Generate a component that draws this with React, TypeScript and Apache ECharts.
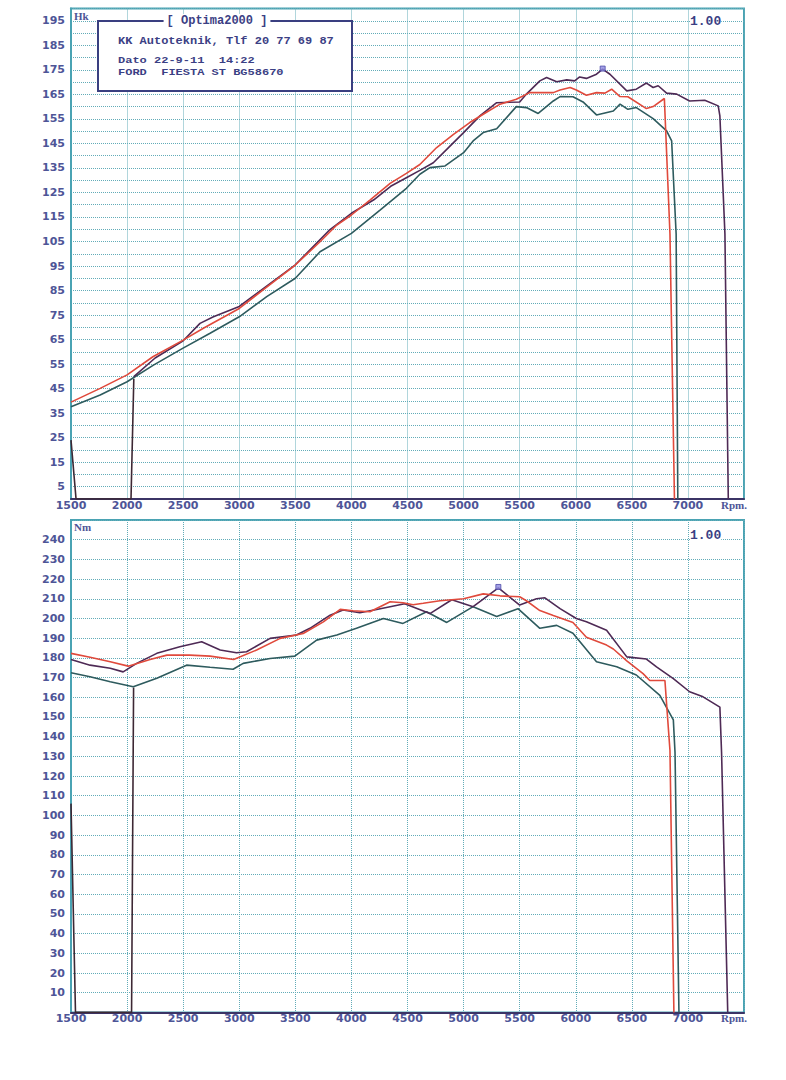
import React, { useEffect, useRef } from "react";
import * as echarts from "echarts";

// ---------- Data (rpm, value) ----------
const powerRed: number[][] = [
  [1500, 39.5], [1760, 45.1], [2000, 50.6], [2230, 58.0], [2500, 64.8], [2680, 69.6], [3000, 77.7],
  [3210, 85.2], [3500, 95.4], [3720, 104.9], [3870, 111.7], [4000, 115.8], [4165, 121.9], [4345, 128.7],
  [4490, 132.8], [4610, 136.4], [4760, 143.3], [4910, 148.7], [5055, 153.5], [5175, 156.9], [5325, 161.0],
  [5470, 163.0], [5590, 165.7], [5800, 165.7], [5860, 166.8], [5950, 167.8], [6005, 166.8], [6095, 164.6],
  [6185, 165.7], [6260, 165.5], [6320, 167.1], [6395, 164.1], [6465, 164.0], [6630, 159.2], [6690, 160.0],
  [6790, 163.3], [6840, 108], [6880, 0],
];
const powerPurple: number[][] = [
  [2060, 49.9], [2250, 57.5], [2500, 64.5], [2650, 71.6], [2770, 74.3], [3000, 78.5], [3250, 87.0],
  [3500, 95.5], [3800, 109.5], [4000, 116.5], [4200, 122.0], [4350, 127.5], [4490, 131.0], [4610, 134.0],
  [4730, 137.1], [4870, 143.5], [5000, 149.4], [5145, 156.2], [5295, 161.6], [5500, 161.9], [5560, 165.1],
  [5680, 170.5], [5740, 171.9], [5830, 170.1], [5920, 170.9], [5990, 170.5], [6035, 172.1], [6095, 171.5],
  [6185, 173.2], [6240, 175.3], [6305, 173.2], [6455, 166.4], [6540, 167.1], [6630, 169.6], [6690, 167.8],
  [6735, 168.5], [6810, 165.5], [6900, 165.1], [7015, 162.3], [7150, 162.6], [7270, 160.3], [7285, 156.2],
  [7330, 108], [7360, 0],
];
const powerTeal: number[][] = [
  [1500, 37.6], [1760, 42.4], [2000, 47.8], [2235, 54.6], [2495, 61.4], [2740, 67.6], [3000, 74.3],
  [3245, 82.5], [3500, 90.0], [3720, 100.8], [4000, 108.3], [4255, 117.8], [4490, 126.7], [4610, 132.4],
  [4700, 135.1], [4835, 135.8], [5000, 141.2], [5085, 146.0], [5175, 149.4], [5295, 151.0], [5470, 160.0],
  [5560, 159.6], [5665, 157.2], [5800, 162.3], [5860, 164.1], [5975, 164.0], [6065, 161.9], [6185, 156.6],
  [6335, 158.2], [6395, 161.0], [6465, 158.9], [6540, 159.6], [6690, 155.1], [6810, 150.1], [6855, 146.0],
  [6895, 108], [6910, 0],
];
const powerDrop: number[][] = [[1500, 24], [1545, 0], [2035, 0], [2060, 49]];
const powerPeak: number[][] = [[6240, 175.5]];

const torqueRed: number[][] = [
  [1500, 182.3], [1670, 180.3], [1850, 178.0], [2010, 175.8], [2205, 179.2], [2355, 181.4], [2560, 181.4],
  [2740, 180.9], [2950, 179.2], [3155, 184.0], [3365, 189.9], [3570, 192.4], [3750, 198.3], [3900, 204.6],
  [4015, 203.9], [4165, 203.4], [4345, 208.5], [4460, 208.0], [4550, 207.0], [4640, 207.7], [4790, 209.0],
  [5000, 210.0], [5175, 212.5], [5325, 211.5], [5500, 211.0], [5560, 209.0], [5680, 204.0], [5800, 201.5],
  [5975, 198.0], [6095, 190.5], [6275, 186.5], [6335, 184.5], [6455, 178.5], [6600, 172.0], [6660, 168.5],
  [6795, 168.5], [6810, 156.5], [6840, 133], [6875, 0],
];
const torquePurple: number[][] = [
  [1500, 179.2], [1670, 176.3], [1850, 174.7], [1965, 172.9], [2085, 177.2], [2265, 182.3], [2470, 185.6],
  [2665, 188.2], [2830, 184.0], [2975, 182.6], [3065, 183.1], [3275, 189.9], [3510, 191.6], [3630, 195.0],
  [3810, 201.7], [3925, 204.3], [4075, 202.9], [4225, 204.6], [4475, 207.5], [4700, 202.5], [4895, 209.5],
  [5085, 206.0], [5310, 215.5], [5500, 206.8], [5650, 210.0], [5725, 210.5], [5860, 205.0], [6005, 200.0],
  [6095, 198.3], [6275, 194.0], [6455, 180.5], [6630, 179.4], [6720, 175.4], [6870, 169.5], [7015, 162.8],
  [7135, 160.2], [7285, 155.0], [7300, 132], [7355, 0],
];
const torqueTeal: number[][] = [
  [1500, 172.4], [1670, 170.4], [1850, 167.9], [2055, 165.3], [2265, 169.6], [2530, 176.3], [2740, 175.2],
  [2945, 174.2], [3035, 177.2], [3275, 179.7], [3495, 180.9], [3690, 189.0], [3870, 191.6], [4045, 195.0],
  [4285, 200.0], [4460, 197.5], [4670, 203.4], [4850, 198.0], [5085, 206.0], [5295, 201.0], [5485, 205.0],
  [5680, 195.0], [5830, 196.5], [5975, 192.5], [6185, 178.0], [6365, 175.5], [6540, 171.3], [6750, 161.0],
  [6870, 148.5], [6885, 132], [6920, 0],
];
const torqueDrop: number[][] = [[1500, 106], [1540, 0], [2040, 0], [2058, 165]];
const torquePeak: number[][] = [[5310, 216]];

const headerTitle = "[ Optima2000 ]";
const headerLines = ["KK Autoteknik, Tlf 20 77 69 87", "Dato 22-9-11  14:22", "FORD  FIESTA ST BG58670"];
const xUnit = "Rpm.";
const scaleText = "1.00";

// ---------- Styles ----------
const RED = "#e04a3c";
const PURPLE = "#4e2a55";
const TEAL = "#2e5b5e";
const DROP = "#3d2834";
const FRAME = "#4aa3b3";
const GRIDC = "#62acb8";
const LABEL = "#4e5597";
const INK = "#3b4084";

export default function App() {
  const ref = useRef<HTMLDivElement>(null);

  useEffect(() => {
    if (!ref.current) return;
    const chart = echarts.init(ref.current, undefined, { renderer: "svg" });

    const xAxisBase = (gridIndex: number) => ({
      type: "value",
      gridIndex,
      min: 1500,
      max: 7500,
      interval: 500,
      axisLine: { show: true, onZero: false, lineStyle: { color: "#3b3466", width: 2 } },
      axisTick: { show: false },
      splitLine: { show: true, lineStyle: { color: GRIDC, type: "dotted", width: 1 } },
      axisLabel: {
        color: LABEL,
        fontFamily: "DejaVu Sans",
        fontWeight: "bold",
        fontSize: 11,
        margin: 1,
        showMinLabel: true,
        showMaxLabel: true,
        formatter: (v: number) => (v === 7500 ? "" : String(v)),
      },
    });

    const lineS = (data: number[][], color: string, xi: number, z: number, width = 1.6) => ({
      type: "line",
      xAxisIndex: xi,
      yAxisIndex: xi,
      data,
      symbol: "none",
      z,
      lineStyle: { color, width },
    });

    const peakS = (data: number[][], xi: number) => ({
      type: "scatter",
      xAxisIndex: xi,
      yAxisIndex: xi,
      data,
      symbol: "rect",
      symbolSize: 5,
      z: 10,
      itemStyle: { color: "#8d8ae0", borderColor: "#4b48a8", borderWidth: 1 },
    });

    const monoText = (x: number, y: number, text: string, size = 12, extra: any = {}, scaleY = 1) => ({
      type: "text",
      x,
      y,
      scaleY,
      z: 101,
      style: {
        text,
        fill: INK,
        font: `bold ${size}px "Liberation Mono", "DejaVu Sans Mono", monospace`,
        textVerticalAlign: "middle",
        ...extra,
      },
    });

    const serifText = (x: number, y: number, text: string, align = "left") => ({
      type: "text",
      x,
      y,
      z: 101,
      style: {
        text,
        fill: LABEL,
        font: 'bold 11px "Liberation Serif", serif',
        textAlign: align,
        textVerticalAlign: "middle",
      },
    });

    const option: any = {
      animation: false,
      backgroundColor: "#ffffff",
      grid: [
        { left: 71, top: 8.5, width: 673, height: 490.5, show: true, borderColor: FRAME, borderWidth: 2, backgroundColor: "transparent" },
        { left: 71, top: 520, width: 673, height: 492.4, show: true, borderColor: FRAME, borderWidth: 2, backgroundColor: "transparent" },
      ],
      xAxis: [xAxisBase(0), xAxisBase(1)],
      yAxis: [
        {
          type: "value",
          gridIndex: 0,
          min: 0,
          max: 200,
          interval: 5,
          axisLine: { show: true, lineStyle: { color: FRAME, width: 2 } },
          axisTick: { show: false },
          splitLine: { show: true, lineStyle: { color: GRIDC, type: "dotted", width: 1 } },
          axisLabel: {
            color: LABEL,
            fontFamily: "DejaVu Sans",
            fontWeight: "bold",
            fontSize: 11,
            margin: 6,
            formatter: (v: number) => (v % 10 === 5 ? String(v) : ""),
          },
        },
        {
          type: "value",
          gridIndex: 1,
          min: 0,
          max: 250,
          interval: 10,
          axisLine: { show: true, lineStyle: { color: FRAME, width: 2 } },
          axisTick: { show: false },
          splitLine: { show: true, lineStyle: { color: GRIDC, type: "dotted", width: 1 } },
          axisLabel: {
            color: LABEL,
            fontFamily: "DejaVu Sans",
            fontWeight: "bold",
            fontSize: 11,
            margin: 6,
            formatter: (v: number) => (v > 0 && v < 250 ? String(v) : ""),
          },
        },
      ],
      series: [
        lineS(powerDrop, DROP, 0, 3),
        lineS(powerTeal, TEAL, 0, 4),
        lineS(powerPurple, PURPLE, 0, 5),
        lineS(powerRed, RED, 0, 6),
        peakS(powerPeak, 0),
        lineS(torqueDrop, DROP, 1, 3),
        lineS(torqueTeal, TEAL, 1, 4),
        lineS(torquePurple, PURPLE, 1, 5),
        lineS(torqueRed, RED, 1, 6),
        peakS(torquePeak, 1),
      ],
      graphic: [
        {
          type: "rect",
          z: 100,
          shape: { x: 98, y: 21, width: 254, height: 70 },
          style: { fill: "#ffffff", stroke: "#3a3f80", lineWidth: 2 },
        },
        monoText(217, 21, headerTitle, 12, { textAlign: "center", backgroundColor: "#ffffff", padding: [1, 3] }),
        monoText(118, 41, headerLines[0], 12, {}, 0.85),
        monoText(118, 60, headerLines[1], 12, {}, 0.8),
        monoText(118, 72, headerLines[2], 12, {}, 0.8),
        monoText(690, 21, scaleText, 13, { backgroundColor: "#ffffff" }),
        monoText(690, 535, scaleText, 13, { backgroundColor: "#ffffff" }),
        serifText(74, 16, "Hk"),
        serifText(74, 527, "Nm"),
        serifText(747, 505, xUnit, "right"),
        serifText(747, 1018, xUnit, "right"),
      ],
    };

    chart.setOption(option);
    return () => chart.dispose();
  }, []);

  return (
    <div
      ref={ref}
      style={{ position: "absolute", left: 0, top: 0, width: 786, height: 1080, background: "#ffffff" }}
    />
  );
}
